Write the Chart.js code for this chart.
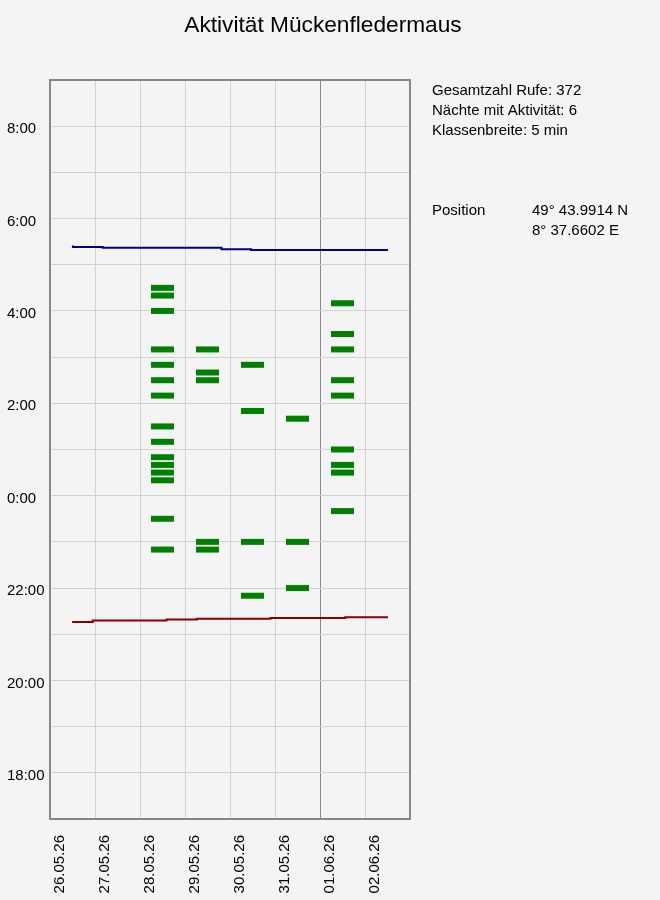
<!DOCTYPE html>
<html>
<head>
<meta charset="utf-8">
<script src="https://cdn.jsdelivr.net/npm/chart.js@4"></script>
<style>
  html, body { margin: 0; padding: 0; background: #f4f4f4; }
  canvas { display: block; }
</style>
</head>
<body>
<canvas id="c" width="660" height="900"></canvas>
<script>
// ---- data ----
const title = "Aktivität Mückenfledermaus";
const tickDates = ["26.05.26","27.05.26","28.05.26","29.05.26","30.05.26","31.05.26","01.06.26","02.06.26"];
const timeTicks = ["18:00","20:00","22:00","0:00","2:00","4:00","6:00","8:00"];

// activity classes (5-min class times) per night; night index = position in tickDates
const night28 = ["22:50","23:30","0:20","0:30","0:40","0:50","1:10","1:30","2:10","2:30","2:50","3:10","4:00","4:20","4:30"];
const night29 = ["22:50","23:00","2:30","2:40","3:10"];
const night30 = ["21:50","23:00","1:50","2:50"];
const night31 = ["22:00","23:00","1:40"];
const night01 = ["23:40","0:30","0:40","1:00","2:10","2:30","3:10","3:30","4:10"];
const nightIndex = [2, 3, 4, 5, 6];
const nights = [night28, night29, night30, night31, night01];

// sunrise / sunset step lines (day position counted from 26.05, clock time)
const sunriseDay  = [0.51, 1.17, 3.81, 4.47, 6.11, 7.51];
const sunriseTime = ["5:25","5:23","5:22","5:20","5:19","5:19"];
const sunsetDay   = [0.51, 0.95, 2.59, 3.26, 4.90, 6.56, 7.20, 7.51];
const sunsetTime  = ["21:15","21:16","21:18","21:19","21:20","21:21","21:22","21:22"];

const infoLines = ["Gesamtzahl Rufe: 372", "Nächte mit Aktivität: 6", "Klassenbreite: 5 min"];
const positionLabel = "Position";
const positionLines = ["49° 43.9914 N", "8° 37.6602 E"];

// ---- helpers ----
function toHours(s) {
  const [h, m] = s.split(":").map(Number);
  let v = h + m / 60;
  if (v < 12) v += 24;
  return v;
}

const barPoints = [];
nights.forEach((arr, i) => {
  arr.forEach(t => barPoints.push({ x: nightIndex[i] + 0.5, y: toHours(t) }));
});
const sunrisePts = sunriseDay.map((d, i) => ({ x: d, y: toHours(sunriseTime[i]) }));
const sunsetPts  = sunsetDay.map((d, i) => ({ x: d, y: toHours(sunsetTime[i]) }));

const FONT = "'Liberation Sans', Arial, sans-serif";
Chart.defaults.font.family = FONT;
Chart.defaults.font.size = 15;
Chart.defaults.color = '#000';

const decor = {
  id: 'decor',
  afterDraw(chart) {
    const ctx = chart.ctx;
    const a = chart.chartArea;
    ctx.save();
    ctx.strokeStyle = '#878787';
    ctx.lineWidth = 2;
    ctx.strokeRect(a.left, a.top, a.right - a.left, a.bottom - a.top);
    ctx.fillStyle = '#000';
    ctx.textBaseline = 'alphabetic';
    ctx.textAlign = 'center';
    ctx.font = "22.7px " + FONT;
    ctx.fillText(title, 323, 32);
    ctx.textAlign = 'left';
    ctx.font = "15px " + FONT;
    infoLines.forEach((t, i) => ctx.fillText(t, 432, 95 + i * 20));
    ctx.fillText(positionLabel, 432, 215);
    positionLines.forEach((t, i) => ctx.fillText(t, 532, 215 + i * 20));
    ctx.restore();
  }
};

new Chart(document.getElementById('c'), {
  type: 'scatter',
  data: {
    datasets: [
      {
        label: 'Sonnenaufgang',
        type: 'line',
        data: sunrisePts,
        borderColor: '#00008B',
        borderWidth: 2,
        pointRadius: 0,
        stepped: 'after',
        fill: false
      },
      {
        label: 'Sonnenuntergang',
        type: 'line',
        data: sunsetPts,
        borderColor: '#8B0000',
        borderWidth: 2,
        pointRadius: 0,
        stepped: 'after',
        fill: false
      },
      {
        label: 'Aktivität',
        data: barPoints,
        showLine: false,
        pointStyle: 'line',
        pointRadius: 11.5,
        pointBorderWidth: 6,
        pointBorderColor: '#008000',
        pointBackgroundColor: '#008000'
      }
    ]
  },
  options: {
    responsive: false,
    animation: false,
    events: [],
    layout: { padding: { left: 7, top: 80, right: 250, bottom: 0 } },
    plugins: {
      legend: { display: false },
      title: { display: false },
      tooltip: { enabled: false }
    },
    scales: {
      x: {
        type: 'linear',
        min: 0,
        max: 8,
        afterFit(s) { s.height = 81; },
        border: { display: false },
        grid: {
          drawTicks: false,
          color: (c) => (c.tick && c.tick.value === 6) ? '#888888' : '#d2d2d2',
          lineWidth: 1
        },
        ticks: {
          stepSize: 1,
          autoSkip: false,
          maxRotation: 90,
          minRotation: 90,
          padding: 16,
          labelOffset: 10,
          callback: (v) => (Number.isInteger(v) && v < tickDates.length) ? tickDates[v] : ''
        }
      },
      y: {
        type: 'linear',
        min: 17,
        max: 33,
        afterFit(s) { s.width = 43; },
        border: { display: false },
        grid: { drawTicks: false, color: '#d2d2d2', lineWidth: 1 },
        ticks: {
          stepSize: 1,
          crossAlign: 'far',
          padding: 0,
          labelOffset: 3,
          callback: (v) => (v % 2 === 0) ? timeTicks[(v - 18) / 2] : ''
        }
      }
    }
  },
  plugins: [decor]
});
</script>
</body>
</html>
